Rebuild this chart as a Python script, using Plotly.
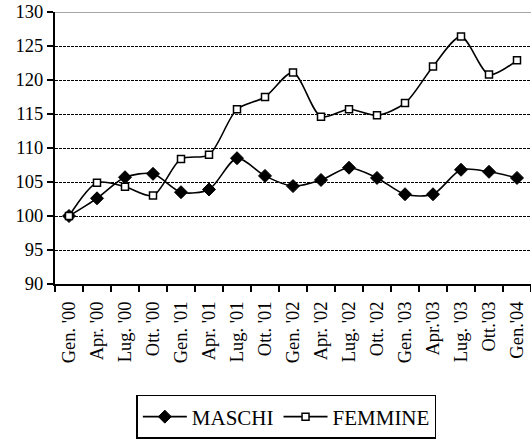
import plotly.graph_objects as go

categories = ["Gen. '00", "Apr. '00", "Lug. '00", "Ott. '00",
              "Gen. '01", "Apr. '01", "Lug. '01", "Ott. '01",
              "Gen. '02", "Apr. '02", "Lug. '02", "Ott. '02",
              "Gen. '03", "Apr.'03", "Lug. '03", "Ott.'03", "Gen.'04"]
maschi = [100.0, 102.6, 105.7, 106.2, 103.5, 103.9, 108.5, 105.9,
          104.4, 105.3, 107.1, 105.6, 103.2, 103.2, 106.8, 106.5, 105.6]
femmine = [100.0, 104.9, 104.3, 103.0, 108.4, 109.0, 115.7, 117.5,
           121.1, 114.6, 115.7, 114.8, 116.6, 122.0, 126.4, 120.8, 122.9]
y_ticks = [90, 95, 100, 105, 110, 115, 120, 125, 130]

FONT = "Liberation Serif"

fig = go.Figure()
fig.add_trace(go.Scatter(
    x=categories, y=maschi, name="MASCHI", mode="lines+markers",
    line=dict(color="black", width=1.6, shape="spline", smoothing=0.8),
    marker=dict(symbol="diamond", size=10, color="black",
                line=dict(color="black", width=1)),
))
fig.add_trace(go.Scatter(
    x=categories, y=femmine, name="FEMMINE", mode="lines+markers",
    line=dict(color="black", width=1.6, shape="spline", smoothing=0.8),
    marker=dict(symbol="square", size=7, color="white",
                line=dict(color="black", width=1.5)),
))

fig.update_layout(
    width=531, height=439,
    margin=dict(l=55, r=0, t=12, b=155, autoexpand=False),
    paper_bgcolor="white", plot_bgcolor="white",
    font=dict(family=FONT, size=18, color="black"),
    showlegend=True,
    legend=dict(
        orientation="h", x=0.486, xanchor="center",
        y=-0.408, yanchor="top",
        bordercolor="black", borderwidth=1.5,
        font=dict(family=FONT, size=21, color="black"),
        itemwidth=44, tracegroupgap=0,
    ),
    xaxis=dict(
        type="category", tickangle=-90, showgrid=False,
        showline=True, linecolor="black", linewidth=2,
        ticks="outside", ticklen=6, tickwidth=1.5, tickcolor="black",
        tickson="boundaries", tickfont=dict(family=FONT, size=18.5),
        ticklabelstandoff=8,
        range=[-0.5, len(categories) - 0.5], fixedrange=True,
        automargin=False,
    ),
    yaxis=dict(
        range=[90, 130], tickvals=y_ticks, showgrid=True,
        gridcolor="black", griddash="3px,1px", gridwidth=1,
        showline=True, linecolor="black", linewidth=2,
        ticks="outside", ticklen=6, tickwidth=1.5, tickcolor="black",
        tickfont=dict(family=FONT, size=18.5), zeroline=False,
        automargin=False, fixedrange=True,
    ),
)
fig.add_shape(type="line", xref="paper", yref="y", x0=0, x1=1,
              y0=y_ticks[-1], y1=y_ticks[-1],
              line=dict(color="#888888", width=1.5))

fig.write_html("out.html", config={"displayModeBar": False},
               post_script="document.body.style.margin='0';")
